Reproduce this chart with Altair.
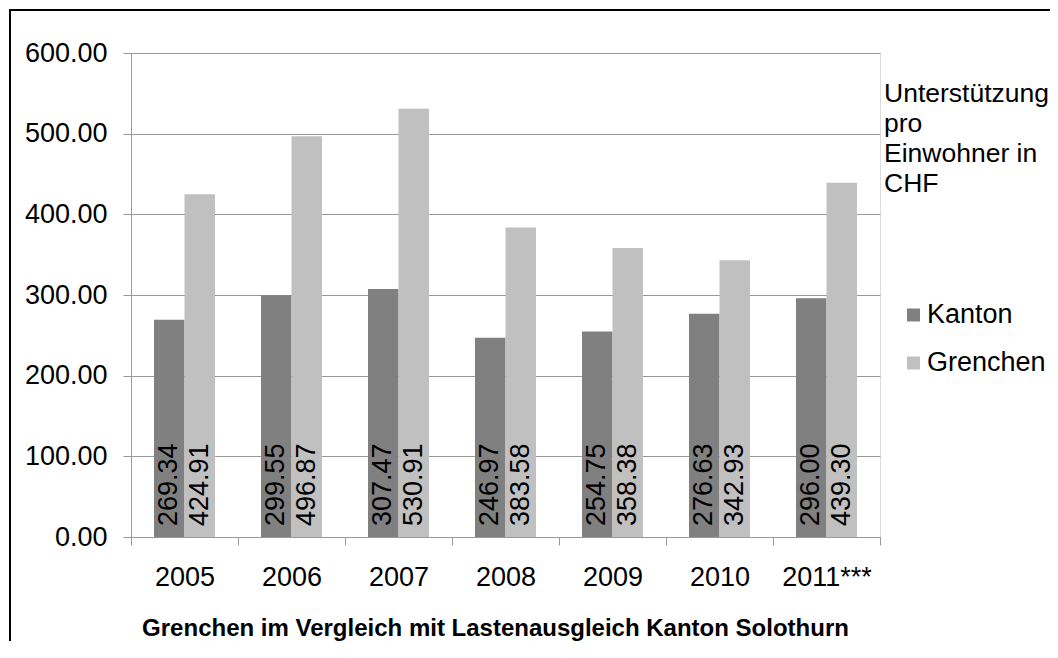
import altair as alt
import pandas as pd

jahre = ["2005", "2006", "2007", "2008", "2009", "2010", "2011***"]
kanton = [269.34, 299.55, 307.47, 246.97, 254.75, 276.63, 296.00]
grenchen = [424.91, 496.87, 530.91, 383.58, 358.38, 342.93, 439.30]
reihen = ["Kanton", "Grenchen"]
farben = ["#808080", "#C0C0C0"]
y_ticks = [0, 100, 200, 300, 400, 500, 600]
legend_title = ["Unterstützung", "pro", "Einwohner in", "CHF"]
x_title = "Grenchen im Vergleich mit Lastenausgleich Kanton Solothurn"

rows = []
for j, k, g in zip(jahre, kanton, grenchen):
    rows.append({"Jahr": j, "Reihe": "Kanton", "Wert": k})
    rows.append({"Jahr": j, "Reihe": "Grenchen", "Wert": g})
df = pd.DataFrame(rows)

FONT = "Liberation Sans"
GRAY = "#999999"
FS = 27

x_enc = alt.X(
    "Jahr:N",
    sort=jahre,
    scale=alt.Scale(paddingInner=0, paddingOuter=0),
    axis=alt.Axis(
        title=x_title,
        labelAngle=0,
        tickBand="extent",
        tickSize=8,
        labelPadding=19,
        labelFontSize=FS,
        labelFont=FONT,
        labelColor="black",
        domainColor=GRAY,
        tickColor=GRAY,
        titleFont=FONT,
        titleFontSize=24,
        titleFontWeight="bold",
        titleColor="black",
        titleX=364,
        titleY=98,
        titleBaseline="alphabetic",
        grid=False,
    ),
)
xo_enc = alt.XOffset("Reihe:N", sort=reihen, scale=alt.Scale(paddingInner=0, paddingOuter=0.754))
y_enc = alt.Y(
    "Wert:Q",
    scale=alt.Scale(domain=[0, 600], nice=False),
    axis=alt.Axis(
        title=None,
        values=y_ticks,
        format=".2f",
        tickSize=8,
        labelPadding=16,
        labelFontSize=FS,
        labelFont=FONT,
        labelColor="black",
        domainColor=GRAY,
        tickColor=GRAY,
        gridColor=GRAY,
        grid=True,
    ),
)

bars = alt.Chart(df).mark_bar().encode(
    x=x_enc,
    xOffset=xo_enc,
    y=y_enc,
    color=alt.Color(
        "Reihe:N",
        sort=reihen,
        scale=alt.Scale(domain=reihen, range=farben),
        legend=alt.Legend(
            title=legend_title,
            orient="none",
            legendX=753,
            legendY=28,
            padding=0,
            titleFont=FONT,
            titleFontSize=26.5,
            titleFontWeight="normal",
            titleColor="black",
            titleLineHeight=30,
            titlePadding=104,
            titleLimit=400,
            labelFont=FONT,
            labelFontSize=FS,
            labelColor="black",
            labelLimit=300,
            labelOffset=0,
            symbolType="square",
            symbolSize=169,
            symbolStrokeWidth=0,
            symbolOffset=16,
            rowPadding=20,
        ),
    ),
)

labels = alt.Chart(df).mark_text(
    angle=270, align="left", baseline="middle", dx=11, fontSize=FS, font=FONT, color="black"
).encode(
    x=alt.X("Jahr:N", sort=jahre),
    xOffset=alt.XOffset("Reihe:N", sort=reihen),
    y=alt.datum(0),
    text=alt.Text("Wert:Q", format=".2f"),
)

frame_df = pd.DataFrame({"k": [0]})
frame_top = alt.Chart(frame_df).mark_rule(color="black", strokeWidth=2).encode(
    x=alt.value(-122), x2=alt.value(1000), y=alt.value(-43)
)
frame_left = alt.Chart(frame_df).mark_rule(color="black", strokeWidth=2).encode(
    x=alt.value(-121), y=alt.value(-44), y2=alt.value(1000)
)

chart = (
    alt.layer(bars, labels, frame_top, frame_left)
    .properties(
        width=749,
        height=484,
        autosize=alt.AutoSizeParams(type="none"),
        padding={"left": 123, "top": 45, "right": 170, "bottom": 104},
    )
    .configure_view(stroke=GRAY, strokeWidth=1)
    .configure(background="white")
)

chart.save("out.html", embed_options={"renderer": "svg", "actions": False})
